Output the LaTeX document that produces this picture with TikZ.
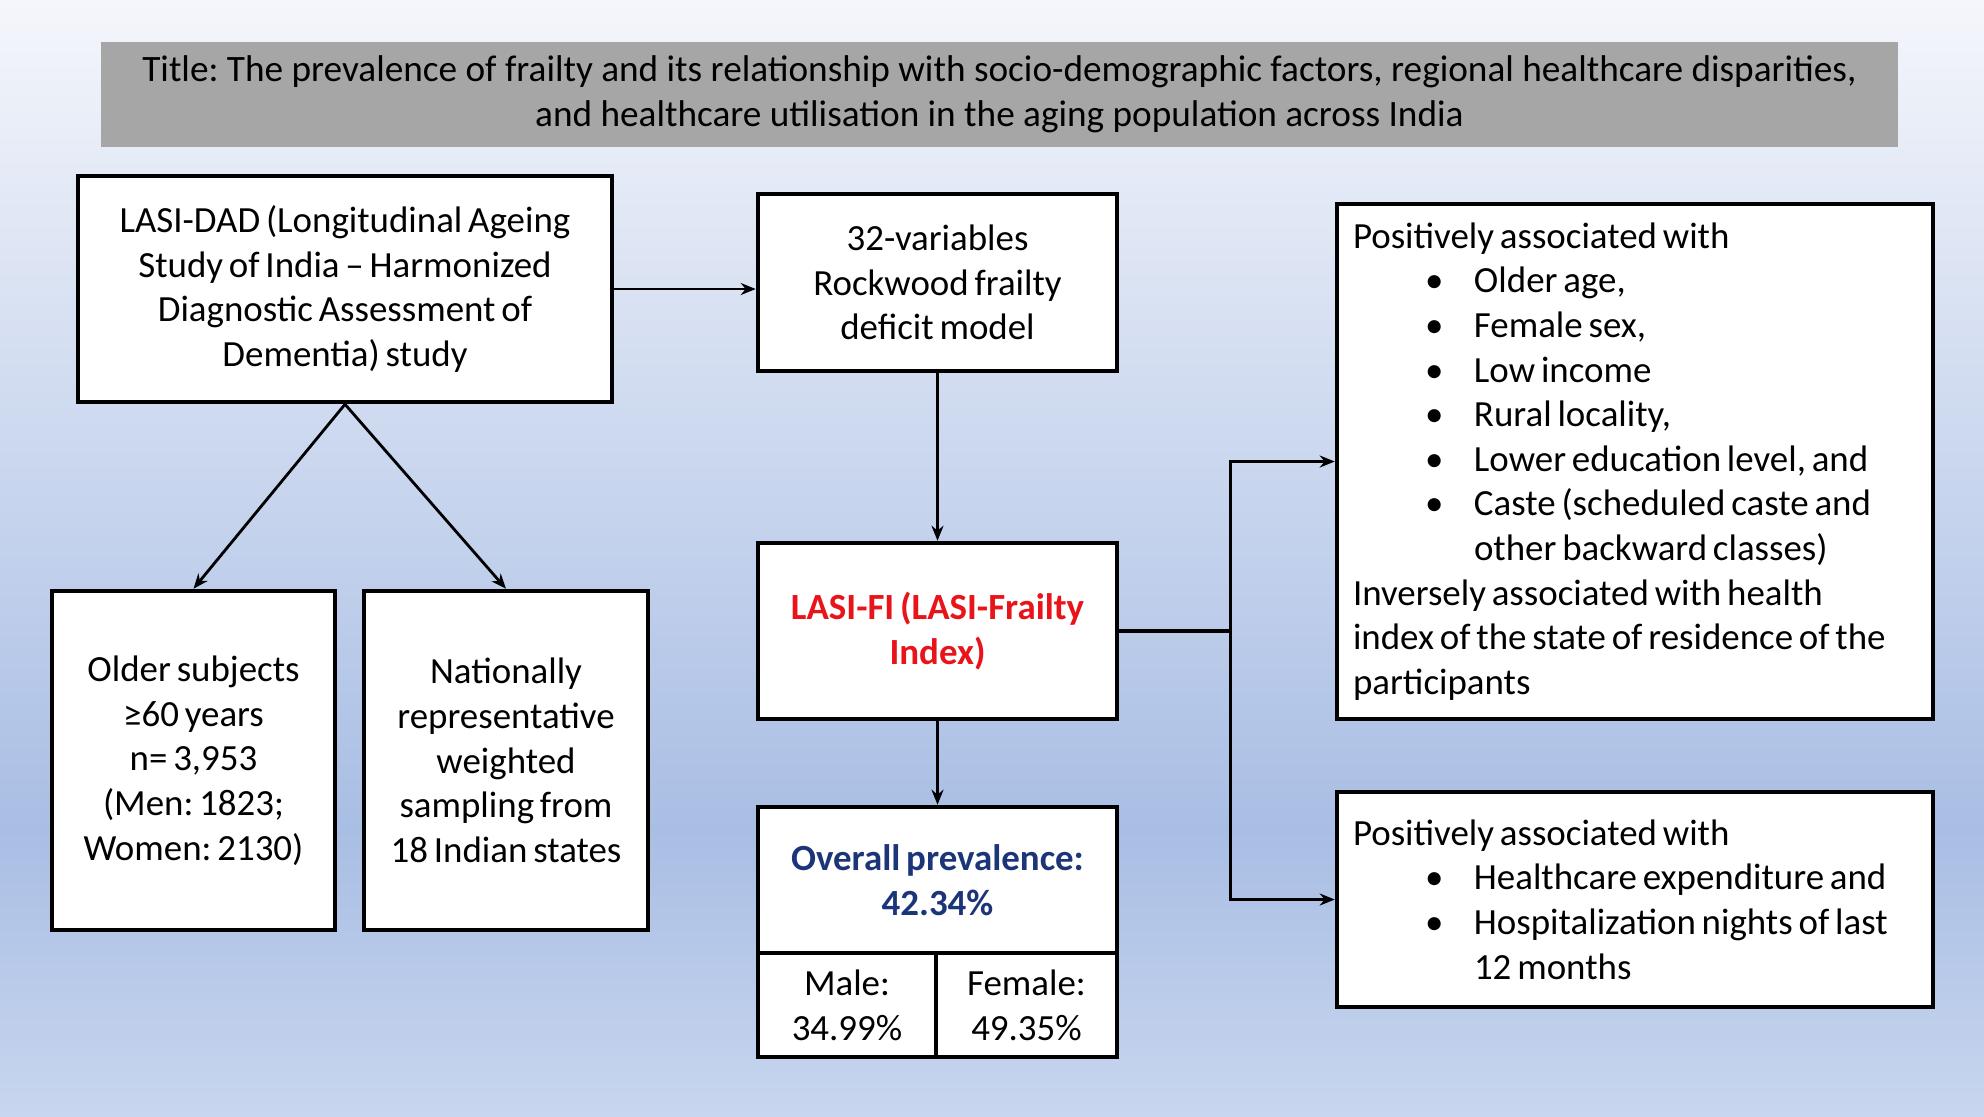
\documentclass[tikz,border=0pt]{standalone}
\usepackage{fontspec}
\setmainfont{Carlito}[WordSpace=0.7]
\newfontfamily\titlefont{Carlito}
\usepackage{xcolor}
\usetikzlibrary{arrows.meta,positioning,calc}
\definecolor{bgtop}{RGB}{244,246,251}
\definecolor{bgmid}{RGB}{169,190,228}
\definecolor{bgbot}{RGB}{200,214,238}
\definecolor{titlegray}{RGB}{166,166,166}
\definecolor{fired}{RGB}{232,20,26}
\definecolor{prevblue}{RGB}{28,52,120}
\newcommand{\bul}{\hspace*{0.72cm}\makebox[0.49cm][l]{•}}
\newcommand{\cont}{\hspace*{1.21cm}}
\frenchspacing

\begin{document}
\begin{tikzpicture}[
		box/.style={draw, fill=white, line width=1.3pt, align=center, inner sep=0pt},
		listbox/.style={draw, fill=white, line width=1.3pt, align=flush left, inner xsep=0.16cm, inner ysep=0pt, text width=5.64cm},
		conn/.style={line width=0.8pt, ->, >={Stealth[length=1.5mm,width=1.2mm]}},
		every node/.style={font=\fontsize{10.5pt}{12.7pt}\selectfont}
	]
		\useasboundingbox (0,0) rectangle (19.84,-11.16);
		\shade [top color=bgtop, bottom color=bgmid] (0,0) rectangle (19.84,-8.3);
		\shade [top color=bgmid, bottom color=bgbot] (0,-8.3) rectangle (19.84,-11.16);
		\node [fill=titlegray, minimum width=17.97cm, minimum height=1.05cm, align=center, inner sep=0pt, font=\titlefont\fontsize{10.6pt}{12.7pt}\selectfont] (title) at (9.995,-0.945) {Title: The prevalence of frailty and its relationship with socio-demographic factors, regional healthcare disparities,\\ and healthcare utilisation in the aging population across India};
		\node [box, minimum width=5.34cm, minimum height=2.26cm] (dad) at (3.45,-2.89) {LASI-DAD (Longitudinal Ageing\\ Study of India -- Harmonized\\ Diagnostic Assessment of\\ Dementia) study};
		\node [box, minimum width=2.83cm, minimum height=3.39cm] (old) at (1.935,-7.605) {Older subjects\\ ≥60 years\\ n= 3,953\\ (Men: 1823;\\ Women: 2130)};
		\node [box, minimum width=2.84cm, minimum height=3.39cm] (nat) at (5.06,-7.605) {Nationally\\ representative\\ weighted\\ sampling from\\ 18 Indian states};
		\node [box, minimum width=3.59cm, minimum height=1.77cm] (var) at (9.375,-2.825) {32-variables\\ Rockwood frailty\\ deficit model};
		\node [box, minimum width=3.59cm, minimum height=1.76cm, text=fired, font=\fontsize{10.5pt}{12.7pt}\selectfont\bfseries] (fi) at (9.375,-6.31) {LASI-FI (LASI-Frailty\\ Index)};
		\node [box, minimum width=3.59cm, minimum height=1.46cm, text=prevblue, font=\fontsize{10.5pt}{12.7pt}\selectfont\bfseries] (prev) at (9.375,-8.80) {Overall prevalence:\\ 42.34\%};
		\node [box, minimum width=1.78cm, minimum height=1.04cm] (male) at (8.47,-10.05) {Male:\\ 34.99\%};
		\node [box, minimum width=1.81cm, minimum height=1.04cm] (female) at (10.265,-10.05) {Female:\\ 49.35\%};
		\node [listbox, minimum height=5.15cm] (pos) at (16.35,-4.615) {Positively associated with\\
			\bul Older age,\\
			\bul Female sex,\\
			\bul Low income\\
			\bul Rural locality,\\
			\bul Lower education level, and\\
			\bul Caste (scheduled caste and\\
			\cont other backward classes)\\
			Inversely associated with health\\
			\mbox{index of the state of residence of the}\\
			participants};
		\node [listbox, minimum height=2.15cm] (use) at (16.35,-8.995) {Positively associated with\\
			\bul Healthcare expenditure and\\
			\bul Hospitalization nights of last\\
			\cont 12 months};
		\draw [conn] (dad.south) -- (old.north);
		\draw [conn] (dad.south) -- (nat.north);
		\draw [conn] (dad.east) -- (dad.east -| var.west);
		\draw [conn] (var.south) -- (fi.north);
		\draw [conn] (fi.south) -- (prev.north);
		\draw [line width=1.3pt] (fi.east) -- ++(1.11,0) coordinate (split);
		\draw [conn] (split) |- (pos.west);
		\draw [conn] (split) |- (use.west);
	\end{tikzpicture}
\end{document}
